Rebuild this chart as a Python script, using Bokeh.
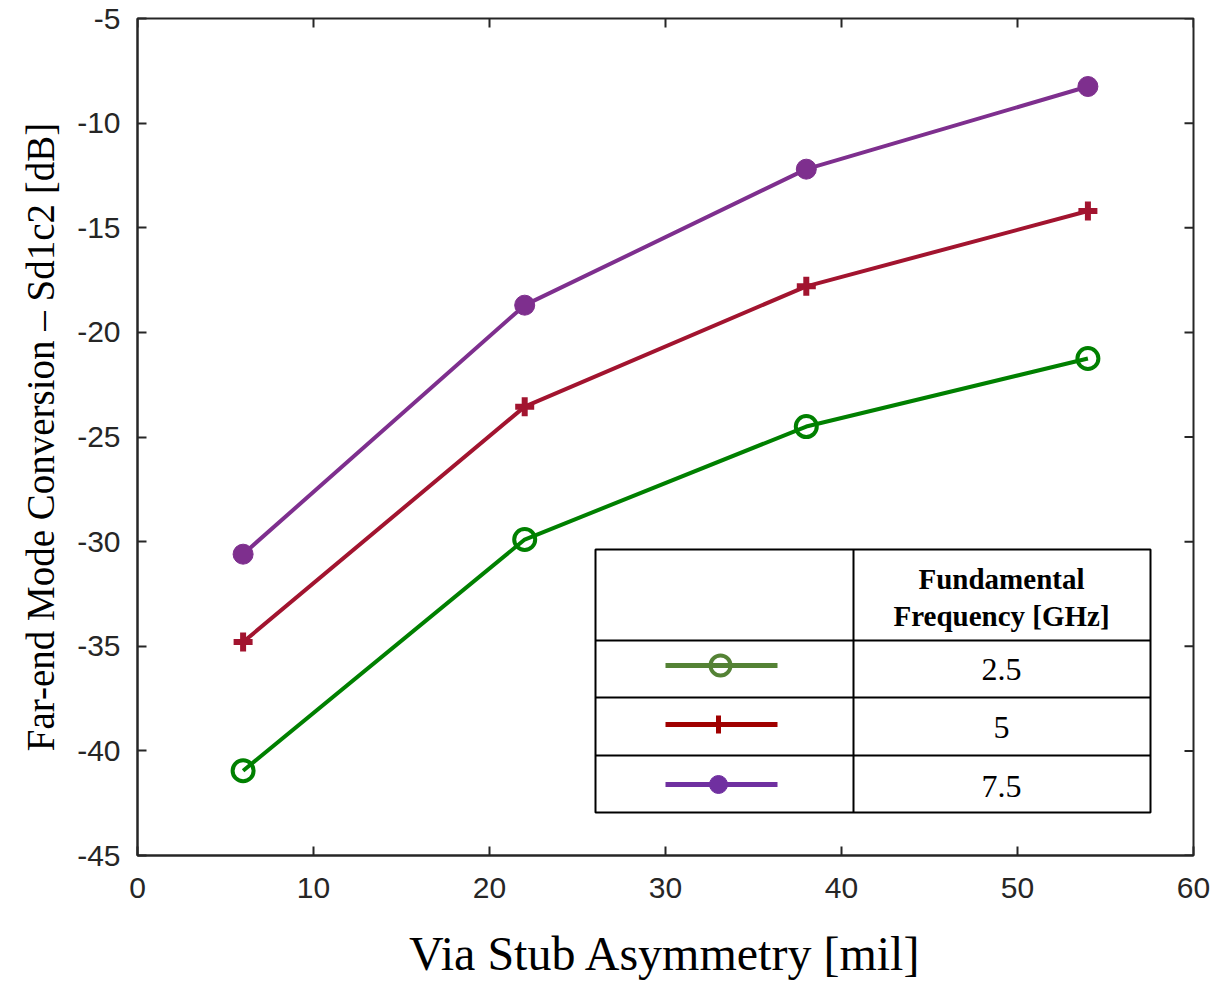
from bokeh.plotting import figure
from bokeh.models import Range1d, FixedTicker, CustomJSTickFormatter
from bokeh.core.properties import value
from bokeh.embed import file_html
from bokeh.resources import INLINE

# ---- data ----
stub_asym = [6, 22, 38, 54]
sd1c2_25 = [-40.95, -29.9, -24.5, -21.25]
sd1c2_5 = [-34.8, -23.55, -17.8, -14.2]
sd1c2_75 = [-30.6, -18.7, -12.2, -8.25]
freq_labels = ["2.5", "5", "7.5"]
x_ticks = [0, 10, 20, 30, 40, 50, 60]
y_ticks = [-45, -40, -35, -30, -25, -20, -15, -10, -5]

line_colors = ["#008000", "#A2142F", "#7E2F8E"]
legend_colors = ["#548235", "#A00000", "#7030A0"]

W, H = 1214, 990
fx0, fx1, fy0, fy1 = 137, 1193, 18, 855
p = figure(width=W, height=H, output_backend="svg", toolbar_location=None,
           x_range=Range1d(0, 60), y_range=Range1d(-45, -5),
           min_border_left=fx0, min_border_right=W - fx1,
           min_border_top=fy0, min_border_bottom=H - fy1)
p.xgrid.visible = False
p.ygrid.visible = False
p.background_fill_color = "white"
p.border_fill_color = "white"
p.outline_line_color = "#262626"
p.outline_line_width = 2

axis_col = "#262626"
for ax in (p.xaxis[0], p.yaxis[0]):
    ax.axis_line_color = axis_col
    ax.axis_line_width = 2
    ax.major_tick_in = 9
    ax.major_tick_out = 0
    ax.major_tick_line_color = axis_col
    ax.major_tick_line_width = 2
    ax.minor_tick_line_color = None
    ax.major_label_text_font = "Liberation Sans"
    ax.major_label_text_font_size = "30px"
    ax.major_label_text_color = axis_col
    ax.formatter = CustomJSTickFormatter(code="return tick.toString();")
    ax.axis_label_text_font = "Liberation Serif"
    ax.axis_label_text_font_style = "normal"
    ax.axis_label_text_color = "black"

p.xaxis[0].ticker = FixedTicker(ticks=x_ticks)
p.yaxis[0].ticker = FixedTicker(ticks=y_ticks)
p.xaxis[0].major_label_standoff = 22
p.yaxis[0].major_label_standoff = 17
p.xaxis[0].axis_label = "Via Stub Asymmetry [mil]"
p.xaxis[0].axis_label_text_font_size = "48px"
p.xaxis[0].axis_label_standoff = 26
p.yaxis[0].axis_label = "Far-end Mode Conversion \u2013 Sd1c2 [dB]"
p.yaxis[0].axis_label_text_font_size = "39px"
p.yaxis[0].axis_label_standoff = 12


def dx(px):
    return (px - fx0) / (fx1 - fx0) * 60


def dy(py):
    return -5 - (py - fy0) / (fy1 - fy0) * 40


# box ticks on right and top edges (inward)
tick_len_x = dx(fx0 + 9)
tick_len_y = dy(fy0) - dy(fy0 + 9)
p.segment(x0=[60] * len(y_ticks), y0=y_ticks, x1=[60 - tick_len_x] * len(y_ticks), y1=y_ticks,
          line_color=axis_col, line_width=2)
p.segment(x0=x_ticks, y0=[-5] * len(x_ticks), x1=x_ticks, y1=[-5 - tick_len_y] * len(x_ticks),
          line_color=axis_col, line_width=2)

# ---- series ----
series = [sd1c2_25, sd1c2_5, sd1c2_75]
for ys, c in zip(series, line_colors):
    p.line(stub_asym, ys, line_color=c, line_width=4)
p.scatter(stub_asym, sd1c2_25, marker="circle", size=21, line_color=line_colors[0],
          line_width=4, fill_alpha=0)
p.scatter(stub_asym, sd1c2_5, marker="cross", size=19, line_color=line_colors[1],
          line_width=6)
p.scatter(stub_asym, sd1c2_75, marker="circle", size=20, line_color=line_colors[2],
          line_width=1, fill_color=line_colors[2])

# ---- legend table ----
tl, tr, tm = 595, 1150, 853
row_y = [549, 640, 697, 755, 812]
p.quad(left=[dx(tl)], right=[dx(tr)], top=[dy(row_y[0])], bottom=[dy(row_y[-1])],
       fill_color="white", line_color="black", line_width=2)
hx0 = [dx(tl)] * 3 + [dx(tm)]
hx1 = [dx(tr)] * 3 + [dx(tm)]
hy0 = [dy(y) for y in row_y[1:4]] + [dy(row_y[0])]
hy1 = [dy(y) for y in row_y[1:4]] + [dy(row_y[-1])]
p.segment(x0=hx0, y0=hy0, x1=hx1, y1=hy1, line_color="black", line_width=2)

sample_y = [dy(665), dy(724), dy(784)]
p.segment(x0=[dx(665)] * 3, y0=sample_y, x1=[dx(777)] * 3, y1=sample_y,
          line_color=legend_colors, line_width=5)
p.scatter([dx(720)], [sample_y[0]], marker="circle", size=20, line_color=legend_colors[0],
          line_width=4, fill_alpha=0)
p.scatter([dx(718)], [sample_y[1]], marker="cross", size=18, line_color=legend_colors[1],
          line_width=5)
p.scatter([dx(718)], [sample_y[2]], marker="circle", size=18, line_color=legend_colors[2],
          fill_color=legend_colors[2])

cx = dx(1001)
p.text(x=[cx, cx], y=[dy(578), dy(615)], text=["Fundamental", "Frequency [GHz]"],
       text_font=value("Liberation Serif"), text_font_style="bold",
       text_font_size="29px", text_align="center", text_baseline="middle",
       text_color="black")
p.text(x=[cx] * 3, y=[dy(669), dy(727), dy(786)], text=freq_labels,
       text_font=value("Liberation Serif"), text_font_size="32px",
       text_align="center", text_baseline="middle", text_color="black")

open("out.html", "w").write(file_html(p, INLINE))
